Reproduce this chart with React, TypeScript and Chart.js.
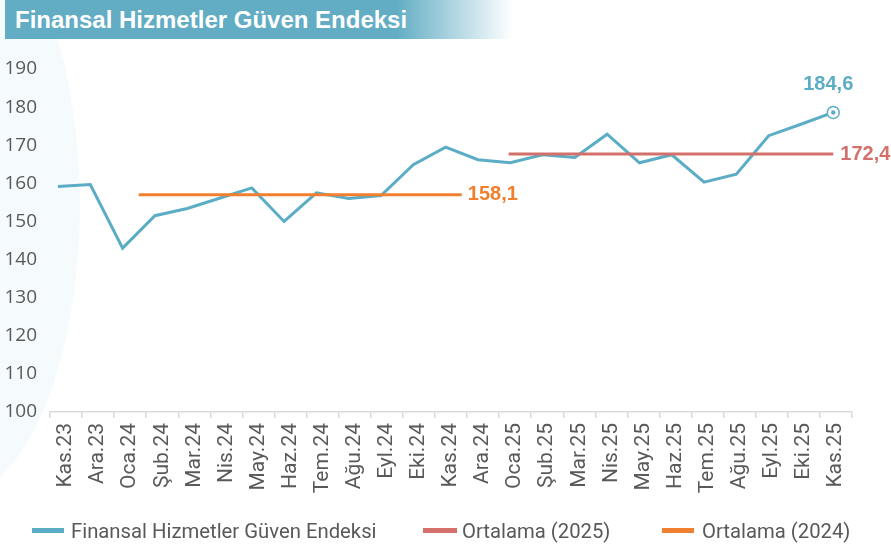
import React, { useEffect, useRef } from "react";
import { Chart, registerables } from "chart.js";

Chart.register(...registerables);

const categories = [
  "Kas.23", "Ara.23", "Oca.24", "Şub.24", "Mar.24", "Nis.24", "May.24", "Haz.24",
  "Tem.24", "Ağu.24", "Eyl.24", "Eki.24", "Kas.24", "Ara.24", "Oca.25", "Şub.25",
  "Mar.25", "Nis.25", "May.25", "Haz.25", "Tem.25", "Ağu.25", "Eyl.25", "Eki.25", "Kas.25",
];

const indexValues = [
  159.2, 159.7, 143.0, 151.5, 153.4, 156.1, 158.8, 150.0, 157.5, 156.0, 156.8, 164.9,
  169.5, 166.2, 165.4, 167.5, 166.8, 172.9, 165.4, 167.5, 160.3, 162.4, 172.5, 175.5, 178.6,
];

const avg2025Value = 167.7;
const avg2025Span = [13.95, 24];
const avg2024Value = 157.0;
const avg2024Span = [2.5, 12.5];

const lastLabel = "184,6";
const avg2025Label = "172,4";
const avg2024Label = "158,1";

const yTicks = [100, 110, 120, 130, 140, 150, 160, 170, 180, 190];

const seriesNames = ["Finansal Hizmetler Güven Endeksi", "Ortalama (2025)", "Ortalama (2024)"];

const BLUE = "#5badc6";
const RED = "#d4706b";
const ORANGE = "#f0802f";
const GRAY = "#595959";

const labelPlugin = {
  id: "valueLabels",
  afterDatasetsDraw(chart: any) {
    const ctx = chart.ctx;
    ctx.save();
    ctx.font = "bold 20px 'Liberation Sans', Arial, sans-serif";
    ctx.textBaseline = "middle";
    const m0 = chart.getDatasetMeta(0);
    const last = m0.data[m0.data.length - 1];
    if (last) {
      ctx.fillStyle = BLUE;
      ctx.textAlign = "center";
      ctx.fillText(lastLabel, last.x - 5, last.y - 28);
    }
    const m1 = chart.getDatasetMeta(1);
    const e1 = m1.data[m1.data.length - 1];
    if (e1) {
      ctx.fillStyle = RED;
      ctx.textAlign = "left";
      ctx.fillText(avg2025Label, e1.x + 7, e1.y);
    }
    const m2 = chart.getDatasetMeta(2);
    const e2 = m2.data[m2.data.length - 1];
    if (e2) {
      ctx.fillStyle = ORANGE;
      ctx.textAlign = "left";
      ctx.fillText(avg2024Label, e2.x + 6, e2.y);
    }
    ctx.restore();
  },
};

export default function App() {
  const ref = useRef<HTMLCanvasElement | null>(null);

  useEffect(() => {
    if (!ref.current) return;
    const lastIdx = indexValues.length - 1;
    const chart = new Chart(ref.current, {
      type: "line",
      data: {
        labels: categories,
        datasets: [
          {
            label: seriesNames[0],
            xAxisID: "xd",
            data: indexValues.map((v, i) => ({ x: i, y: v })),
            borderColor: BLUE,
            borderWidth: 3,
            pointRadius: 0,
            tension: 0,
            clip: false,
            order: 3,
          },
          {
            label: seriesNames[1],
            xAxisID: "xd",
            data: avg2025Span.map((x) => ({ x, y: avg2025Value })),
            borderColor: RED,
            borderWidth: 3,
            pointRadius: 0,
            clip: false,
            order: 1,
          },
          {
            label: seriesNames[2],
            xAxisID: "xd",
            data: avg2024Span.map((x) => ({ x, y: avg2024Value })),
            borderColor: ORANGE,
            borderWidth: 3,
            pointRadius: 0,
            clip: false,
            order: 2,
          },
          {
            label: "ring",
            xAxisID: "xd",
            data: [{ x: lastIdx, y: indexValues[lastIdx] }],
            showLine: false,
            pointRadius: 6,
            pointBackgroundColor: "#ffffff",
            pointBorderColor: BLUE,
            pointBorderWidth: 1.5,
            clip: false,
            order: -1,
          },
          {
            label: "dot",
            xAxisID: "xd",
            data: [{ x: lastIdx, y: indexValues[lastIdx] }],
            showLine: false,
            pointRadius: 2.2,
            pointBackgroundColor: BLUE,
            pointBorderColor: BLUE,
            pointBorderWidth: 0,
            clip: false,
            order: -2,
          },
        ],
      },
      options: {
        animation: false,
        responsive: false,
        maintainAspectRatio: false,
        layout: { padding: { top: 69, right: 39, left: 0, bottom: 0 } },
        plugins: {
          legend: { display: false },
          tooltip: { enabled: false },
        },
        scales: {
          x: {
            type: "category",
            position: "bottom",
            offset: true,
            grid: {
              display: true,
              drawOnChartArea: false,
              drawTicks: true,
              tickLength: 6,
              color: "#d9d9d9",
              lineWidth: 1.5,
              offset: true,
            },
            border: { display: true, color: "#d9d9d9", width: 1.5 },
            ticks: {
              autoSkip: false,
              maxRotation: 90,
              minRotation: 90,
              padding: 5,
              color: GRAY,
              font: { family: "Roboto, 'Liberation Sans', sans-serif", size: 21 },
            },
            afterFit: (s: any) => {
              s.height = 133;
            },
          },
          xd: {
            type: "linear",
            display: false,
            position: "bottom",
            min: -0.2477,
            max: 24.58,
          },
          y: {
            type: "linear",
            min: 100,
            max: 190,
            afterBuildTicks: (s: any) => {
              s.ticks = yTicks.map((v) => ({ value: v }));
            },
            grid: { display: false, drawTicks: false },
            border: { display: false },
            ticks: {
              padding: 13,
              color: GRAY,
              font: { family: "'Open Sans', sans-serif", size: 19 },
            },
            afterFit: (s: any) => {
              s.width = 50;
            },
          },
        },
      },
      plugins: [labelPlugin],
    });
    return () => chart.destroy();
  }, []);

  const legendItems = [
    { name: seriesNames[0], color: BLUE, mx: 32, mw: 32, tx: 71 },
    { name: seriesNames[1], color: RED, mx: 423, mw: 34, tx: 462 },
    { name: seriesNames[2], color: ORANGE, mx: 662, mw: 32, tx: 702 },
  ];

  return (
    <div
      style={{
        position: "absolute",
        left: 0,
        top: 0,
        width: 891,
        height: 545,
        background: "#ffffff",
        overflow: "hidden",
      }}
    >
      <div
        style={{
          position: "absolute",
          left: -180,
          top: -90,
          width: 260,
          height: 590,
          borderRadius: "50%",
          background: "#f5fbfc",
        }}
      />
      <div
        style={{
          position: "absolute",
          left: 5,
          top: 0,
          width: 508,
          height: 39,
          background: "linear-gradient(to right, #62adc4 0%, #62adc4 77%, #ffffff 100%)",
        }}
      />
      <div
        style={{
          position: "absolute",
          left: 15,
          top: 5,
          height: 30,
          lineHeight: "30px",
          color: "#ffffff",
          fontFamily: "'Liberation Sans', Arial, sans-serif",
          fontWeight: "bold",
          fontSize: 24,
          whiteSpace: "nowrap",
        }}
      >
        Finansal Hizmetler Güven Endeksi
      </div>
      <canvas
        ref={ref}
        width={891}
        height={545}
        style={{ position: "absolute", left: 0, top: 0, width: 891, height: 545 }}
      />
      {legendItems.map((it) => (
        <React.Fragment key={it.name}>
          <div
            style={{
              position: "absolute",
              left: it.mx,
              top: 528,
              width: it.mw,
              height: 5,
              background: it.color,
            }}
          />
          <div
            style={{
              position: "absolute",
              left: it.tx,
              top: 519,
              height: 24,
              lineHeight: "24px",
              fontFamily: "Roboto, 'Liberation Sans', sans-serif",
              fontSize: 20.3,
              color: GRAY,
              whiteSpace: "nowrap",
            }}
          >
            {it.name}
          </div>
        </React.Fragment>
      ))}
    </div>
  );
}
